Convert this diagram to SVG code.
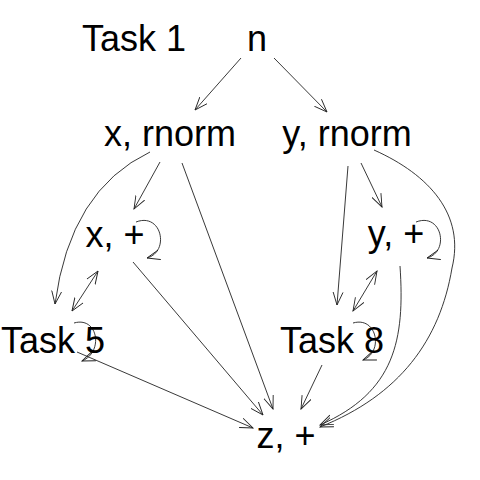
<svg xmlns="http://www.w3.org/2000/svg" width="480" height="480" viewBox="0 0 480 480">
<style>
.lbl{font-family:"Liberation Sans",Arial,Helvetica,sans-serif;font-size:36px;fill:#000;text-anchor:middle}
.e{fill:none;stroke:#222;stroke-width:0.9}
</style>
<defs>
<marker id="ah" viewBox="0 0 14 12" refX="13" refY="6" markerWidth="14" markerHeight="12" markerUnits="userSpaceOnUse" orient="auto-start-reverse">
<path d="M0,1 L13,6 L0,11" fill="none" stroke="#222" stroke-width="0.9"/>
</marker>
</defs>
<rect width="480" height="480" fill="#fff"/>
<g id="connectors">
<path class="e" d="M241,58 L195,110" marker-end="url(#ah)"/>
<path class="e" d="M274,58 L327,112" marker-end="url(#ah)"/>
<path class="e" d="M160,162 L134,209" marker-end="url(#ah)"/>
<path class="e" d="M150,152 Q70,190 55,304" marker-end="url(#ah)"/>
<path class="e" d="M182,163 L273,409" marker-end="url(#ah)"/>
<path class="e" d="M136,222 C162,212 170,252 147,258" marker-end="url(#ah)"/>
<path class="e" d="M98,271 L72,311" marker-start="url(#ah)" marker-end="url(#ah)"/>
<path class="e" d="M133,262 L263,415" marker-end="url(#ah)"/>
<path class="e" d="M74,323 C98,316 104,352 82,361" marker-end="url(#ah)"/>
<path class="e" d="M77,352 L253,428" marker-end="url(#ah)"/>
<path class="e" d="M361,163 L382,207" marker-end="url(#ah)"/>
<path class="e" d="M348,166 L337,305" marker-end="url(#ah)"/>
<path class="e" d="M374,150 C430,175 465,215 452,268 C440,340 400,395 320,427" marker-end="url(#ah)"/>
<path class="e" d="M416,222 C442,212 450,252 427,258" marker-end="url(#ah)"/>
<path class="e" d="M377,271 L353,311" marker-start="url(#ah)" marker-end="url(#ah)"/>
<path class="e" d="M400,266 C405,340 395,392 320,425" marker-end="url(#ah)"/>
<path class="e" d="M353,323 C377,316 384,352 363,360" marker-end="url(#ah)"/>
<path class="e" d="M322,365 L301,409" marker-end="url(#ah)"/>
</g>
<g id="n_task1"><text class="lbl" x="134" y="51">Task 1</text></g>
<g id="n_n"><text class="lbl" x="257" y="51">n</text></g>
<g id="n_xrnorm"><text class="lbl" x="170" y="146">x, rnorm</text></g>
<g id="n_yrnorm"><text class="lbl" x="347" y="146">y, rnorm</text></g>
<g id="n_xplus"><text class="lbl" x="115" y="247">x, +</text></g>
<g id="n_yplus"><text class="lbl" x="396" y="246">y, +</text></g>
<g id="n_task5"><text class="lbl" x="53" y="353">Task 5</text></g>
<g id="n_task8"><text class="lbl" x="332" y="353">Task 8</text></g>
<g id="n_zplus"><text class="lbl" x="286" y="448">z, +</text></g>
</svg>
